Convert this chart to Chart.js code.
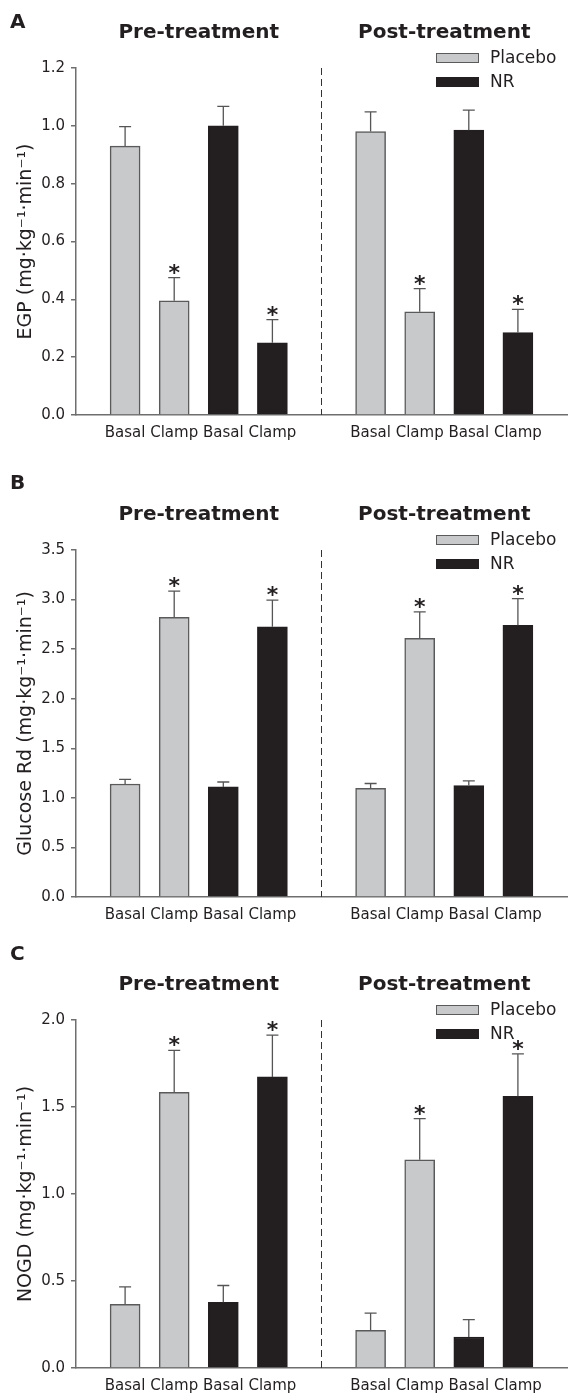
<!DOCTYPE html>
<html lang="en">
<head>
  <meta charset="UTF-8">
  <title>EGP, Glucose Rd and NOGD – Placebo vs NR</title>
  <script src="https://cdn.jsdelivr.net/npm/chart.js"></script>
  <style>
    body {
      margin: 0;
      background: #fff;
      overflow: hidden;
    }
    .panel {
      position: absolute;
      left: 0;
      width: 572px;
      overflow: hidden;
    }
  </style>
</head>
<body>

  <div class="panel" style="top: 0px; height: 460px"><canvas id="chartA" width="576" height="460"></canvas></div>
  <div class="panel" style="top: 460px; height: 470px"><canvas id="chartB" width="576" height="470"></canvas></div>
  <div class="panel" style="top: 930px; height: 464px"><canvas id="chartC" width="576" height="464"></canvas></div>

  <script>
    const phases = ['Pre-treatment', 'Post-treatment'];
    const conditions = ['Basal', 'Clamp'];
    const groups = ['Placebo', 'NR'];
    const conditionMarks = ['', '*'];

    // order in every series: pre basal, pre clamp, post basal, post clamp
    const egpPlacebo = [0.93, 0.395, 0.98, 0.357];
    const egpPlaceboSE = [0.067, 0.08, 0.068, 0.08];
    const egpNR = [1.0, 0.25, 0.985, 0.285];
    const egpNRSE = [0.067, 0.08, 0.069, 0.08];
    const egpTicks = [0, 0.2, 0.4, 0.6, 0.8, 1.0, 1.2];

    const rdPlacebo = [1.14, 2.82, 1.095, 2.61];
    const rdPlaceboSE = [0.047, 0.266, 0.05, 0.265];
    const rdNR = [1.11, 2.725, 1.125, 2.74];
    const rdNRSE = [0.05, 0.27, 0.047, 0.27];
    const rdTicks = [0, 0.5, 1.0, 1.5, 2.0, 2.5, 3.0, 3.5];

    const nogdPlacebo = [0.366, 1.585, 0.217, 1.197];
    const nogdPlaceboSE = [0.1, 0.24, 0.098, 0.236];
    const nogdNR = [0.378, 1.673, 0.178, 1.562];
    const nogdNRSE = [0.096, 0.24, 0.1, 0.243];
    const nogdTicks = [0, 0.5, 1.0, 1.5, 2.0];

    const FONT = 'DejaVu Sans';
    const INK = '#231f20';
    const AXIS = '#6e6e6e';
    const fills = { Placebo: '#c8c9cb', NR: '#231f20' };
    const edges = { Placebo: '#5a5a5a', NR: '#231f20' };

    // one empty slot before each phase and after the last one
    const labels = [''];
    const slotOf = {};
    phases.forEach((p, pi) => {
      groups.forEach(g => {
        conditions.forEach((c, ci) => {
          slotOf[g + '|' + pi + '|' + ci] = labels.length;
          labels.push(c);
        });
      });
      labels.push('');
    });

    function spread(group, values) {
      const out = labels.map(() => null);
      values.forEach((v, k) => {
        out[slotOf[group + '|' + Math.floor(k / 2) + '|' + (k % 2)]] = v;
      });
      return out;
    }

    const decor = {
      id: 'decor',
      afterDatasetsDraw(chart) {
        const { ctx, chartArea, scales: { x, y } } = chart;
        ctx.save();

        // error bars (upper half) and significance stars
        chart.data.datasets.forEach(ds => {
          ds.data.forEach((v, i) => {
            if (v === null) return;
            const cx = x.getPixelForValue(i);
            const y0 = y.getPixelForValue(v);
            const y1 = y.getPixelForValue(v + ds.se[i]);
            ctx.strokeStyle = '#555';
            ctx.lineWidth = 1.3;
            ctx.beginPath();
            ctx.moveTo(cx, y0);
            ctx.lineTo(cx, y1);
            ctx.moveTo(cx - 6, y1);
            ctx.lineTo(cx + 6, y1);
            ctx.stroke();

            const mark = conditionMarks[conditions.indexOf(labels[i])];
            if (mark) {
              ctx.font = 'bold 22px "' + FONT + '"';
              ctx.fillStyle = INK;
              ctx.textAlign = 'center';
              ctx.textBaseline = 'alphabetic';
              const m = ctx.measureText(mark);
              const mid = y1 - 9;
              ctx.fillText(mark, cx, mid + (m.actualBoundingBoxAscent - m.actualBoundingBoxDescent) / 2);
            }
          });
        });

        // dashed divider between phases
        const divX = x.getPixelForValue(slotOf['NR|0|1'] + 1);
        ctx.strokeStyle = '#333';
        ctx.lineWidth = 1;
        ctx.setLineDash([7, 4]);
        ctx.beginPath();
        ctx.moveTo(divX, chartArea.top);
        ctx.lineTo(divX, chartArea.bottom);
        ctx.stroke();
        ctx.setLineDash([]);

        // phase headings
        ctx.font = 'bold 20px "' + FONT + '"';
        ctx.fillStyle = INK;
        ctx.textAlign = 'center';
        ctx.textBaseline = 'middle';
        phases.forEach((p, pi) => {
          const a = x.getPixelForValue(slotOf['Placebo|' + pi + '|1']);
          const b = x.getPixelForValue(slotOf['NR|' + pi + '|0']);
          ctx.fillText(p, (a + b) / 2, chartArea.top - 35);
        });

        // legend
        ctx.font = '17px "' + FONT + '"';
        ctx.textAlign = 'left';
        chart.data.datasets.forEach((ds, k) => {
          const bx = chartArea.right - 131;
          const cy = chartArea.top - 10 + k * 24;
          ctx.fillStyle = ds.backgroundColor;
          ctx.fillRect(bx, cy - 5, 43, 10);
          ctx.strokeStyle = ds.borderColor;
          ctx.lineWidth = 1;
          ctx.strokeRect(bx + 0.5, cy - 4.5, 42, 9);
          ctx.fillStyle = INK;
          ctx.fillText(ds.label, bx + 54, cy + 1);
        });

        ctx.restore();
      }
    };

    function makeChart(id, letter, yTitle, placebo, placeboSE, nr, nrSE, ticks, letterY, axisTop, axisBottom) {
      const canvas = document.getElementById(id);
      const H = canvas.height;
      const series = { Placebo: [placebo, placeboSE], NR: [nr, nrSE] };
      return new Chart(canvas, {
        type: 'bar',
        data: {
          labels: labels,
          datasets: groups.map(g => ({
            label: g,
            data: spread(g, series[g][0]),
            se: spread(g, series[g][1]),
            backgroundColor: fills[g],
            borderColor: edges[g],
            borderWidth: 1.5,
            barThickness: 30,
            grouped: false
          }))
        },
        options: {
          responsive: false,
          animation: false,
          layout: { autoPadding: false, padding: { left: 10, right: 0, top: 0, bottom: 0 } },
          plugins: {
            legend: { display: false },
            tooltip: { enabled: false },
            title: {
              display: true,
              text: letter,
              align: 'start',
              color: INK,
              font: { family: FONT, size: 20, weight: 'bold' },
              padding: { top: letterY - 12, bottom: axisTop - letterY - 12 }
            }
          },
          scales: {
            x: {
              type: 'category',
              offset: false,
              grid: { display: false, drawTicks: false },
              border: { display: true, color: AXIS, width: 1.5 },
              ticks: { color: INK, font: { family: FONT, size: 15 }, padding: 9, autoSkip: false, maxRotation: 0 },
              afterFit: s => { s.height = H - axisBottom; }
            },
            y: {
              min: 0,
              max: ticks[ticks.length - 1],
              grid: { drawOnChartArea: false, drawTicks: true, tickLength: 5, color: AXIS, lineWidth: 1.5 },
              border: { display: true, color: AXIS, width: 1.5 },
              ticks: { color: INK, font: { family: FONT, size: 15 }, padding: 6, callback: v => v.toFixed(1) },
              afterBuildTicks: s => { s.ticks = ticks.map(v => ({ value: v })); },
              title: { display: true, text: yTitle, color: INK, font: { family: FONT, size: 19 }, padding: { top: 5, bottom: 0 } },
              afterFit: s => { s.width = 66; }
            }
          }
        },
        plugins: [decor]
      });
    }

    makeChart('chartA', 'A', 'EGP (mg·kg⁻¹·min⁻¹)', egpPlacebo, egpPlaceboSE, egpNR, egpNRSE, egpTicks, 23, 68, 415);
    makeChart('chartB', 'B', 'Glucose Rd (mg·kg⁻¹·min⁻¹)', rdPlacebo, rdPlaceboSE, rdNR, rdNRSE, rdTicks, 24, 90, 437);
    makeChart('chartC', 'C', 'NOGD (mg·kg⁻¹·min⁻¹)', nogdPlacebo, nogdPlaceboSE, nogdNR, nogdNRSE, nogdTicks, 25, 90, 438);
  </script>

</body>
</html>
